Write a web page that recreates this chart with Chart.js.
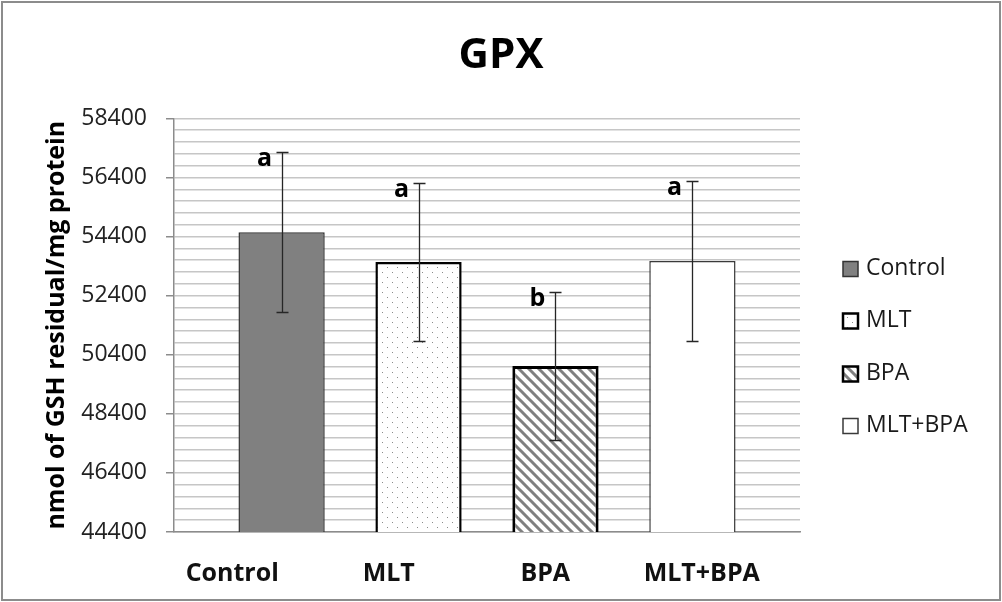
<!DOCTYPE html>
<html>
<head>
<meta charset="utf-8">
<title>GPX</title>
<script src="https://cdn.jsdelivr.net/npm/chart.js@4.4.1/dist/chart.umd.min.js"></script>
<style>
  html, body { margin: 0; padding: 0; background: #fff; }
  canvas { display: block; }
</style>
</head>
<body>
<canvas id="gpxChart" width="1002" height="602"></canvas>
<script>
const chartTitle = 'GPX';
const groups = ['Control', 'MLT', 'BPA', 'MLT+BPA'];
const means = [54550, 53540, 50020, 53570];
const errors = [2720, 2680, 2500, 2700];
const letters = ['a', 'a', 'b', 'a'];
const yTitle = 'nmol of GSH residual/mg protein';
const yMin = 44400;
const yMax = 58400;
const yMajor = 2000;
const yMinor = 400;

const canvas = document.getElementById('gpxChart');
const ctx = canvas.getContext('2d');

Chart.defaults.font.family = "'Open Sans', sans-serif";

function makePattern(size, draw) {
    const tile = document.createElement('canvas');
    tile.width = size;
    tile.height = size;
    const g = tile.getContext('2d');
    g.fillStyle = '#ffffff';
    g.fillRect(0, 0, size, size);
    draw(g, size);
    return ctx.createPattern(tile, 'repeat');
}

const dots = makePattern(10, g => {
    g.fillStyle = '#8a8a8a';
    g.fillRect(2, 2, 1, 1);
    g.fillRect(7, 7, 1, 1);
});

const hatch = makePattern(10, (g, s) => {
    g.strokeStyle = '#808080';
    g.lineWidth = 3;
    g.beginPath();
    g.moveTo(-2, -2); g.lineTo(s + 2, s + 2);
    g.moveTo(-2, s - 2); g.lineTo(2, s + 2);
    g.moveTo(s - 2, -2); g.lineTo(s + 2, 2);
    g.stroke();
});

// bar styles, one per group
const fills = ['#808080', dots, hatch, '#ffffff'];
const borders = ['#333333', '#000000', '#000000', '#3a3a3a'];
const borderWidths = [1.5, 2.5, 3, 1.5];

const datasets = groups.map((name, i) => ({
    label: name,
    data: [means[i]],
    backgroundColor: fills[i],
    borderColor: borders[i],
    borderWidth: borderWidths[i],
    xAxisID: 'xBars',
    categoryPercentage: 0.875,
    barPercentage: 0.63
}));

const frame = {
    id: 'frame',
    beforeDraw(chart) {
        const c = chart.ctx;
        c.save();
        c.fillStyle = '#ffffff';
        c.fillRect(0, 0, chart.width, chart.height);
        c.restore();
    },
    afterDraw(chart) {
        const c = chart.ctx;
        c.save();
        c.strokeStyle = '#8c8c8c';
        c.lineWidth = 2;
        c.strokeRect(2, 2, chart.width - 4, chart.height - 4);
        c.restore();
    }
};

const errorBars = {
    id: 'errorBars',
    afterDatasetsDraw(chart) {
        const c = chart.ctx;
        const y = chart.scales.y;
        c.save();
        c.strokeStyle = '#262626';
        c.lineWidth = 1.3;
        c.fillStyle = '#000000';
        c.font = "bold 25px 'Open Sans'";
        c.textAlign = 'center';
        c.textBaseline = 'middle';
        chart.data.datasets.forEach((ds, i) => {
            const bar = chart.getDatasetMeta(i).data[0];
            const x = Math.round(bar.x) + 0.5;
            const top = Math.round(y.getPixelForValue(means[i] + errors[i])) + 0.5;
            const bottom = Math.round(y.getPixelForValue(means[i] - errors[i])) + 0.5;
            c.beginPath();
            c.moveTo(x, top); c.lineTo(x, bottom);
            c.moveTo(x - 6, top); c.lineTo(x + 6, top);
            c.moveTo(x - 6, bottom); c.lineTo(x + 6, bottom);
            c.stroke();
            c.fillText(letters[i], x - 18, top + 6);
        });
        c.restore();
    }
};

const sideLegend = {
    id: 'sideLegend',
    afterDraw(chart) {
        const c = chart.ctx;
        const area = chart.chartArea;
        const gap = 52.5;
        const box = 15;
        const x0 = area.right + 43;
        const mid = (area.top + area.bottom) / 2 + 22;
        c.save();
        c.font = "23px 'Open Sans'";
        c.textBaseline = 'middle';
        c.textAlign = 'left';
        chart.data.datasets.forEach((ds, i) => {
            const cy = mid + (i - (chart.data.datasets.length - 1) / 2) * gap;
            const top = Math.round(cy - box / 2) + 0.5;
            c.fillStyle = ds.backgroundColor;
            c.fillRect(x0, top, box, box);
            c.strokeStyle = ds.borderColor;
            c.lineWidth = Math.min(ds.borderWidth, 2.5);
            c.strokeRect(x0, top, box, box);
            c.fillStyle = '#1a1a1a';
            c.fillText(ds.label, x0 + box + 8, cy);
        });
        c.restore();
    }
};

new Chart(ctx, {
    type: 'bar',
    data: {
        labels: [chartTitle],
        datasets: datasets
    },
    plugins: [frame, errorBars, sideLegend],
    options: {
        responsive: false,
        animation: false,
        layout: { padding: { top: 10, left: 38, right: 38, bottom: 12 } },
        plugins: {
            legend: { display: false },
            tooltip: { enabled: false },
            title: {
                display: true,
                text: chartTitle,
                color: '#000000',
                font: { size: 42, weight: 'bold' },
                padding: { top: 21, bottom: 37 }
            }
        },
        scales: {
            xBars: {
                type: 'category',
                axis: 'x',
                position: 'bottom',
                display: false,
                offset: true
            },
            x: {
                type: 'category',
                labels: groups,
                position: 'bottom',
                offset: true,
                grid: { display: false, drawTicks: false },
                border: { display: true, color: '#8c8c8c', width: 1.5 },
                ticks: {
                    padding: 27,
                    labelOffset: -20,
                    color: '#111111',
                    font: { size: 25, weight: 'bold' }
                },
                afterFit: s => { s.height = 58; }
            },
            y: {
                min: yMin,
                max: yMax,
                ticks: {
                    stepSize: yMinor,
                    autoSkip: false,
                    maxTicksLimit: 100,
                    padding: 19,
                    color: '#222222',
                    font: { size: 23 },
                    callback: v => ((v - yMin) % yMajor === 0 ? String(v) : '')
                },
                grid: {
                    color: '#c6c6c6',
                    lineWidth: 1.5,
                    tickLength: 8,
                    tickColor: c => (c.tick && c.tick.label !== '' ? '#8c8c8c' : 'rgba(0,0,0,0)')
                },
                border: { color: '#8c8c8c', width: 1.5 },
                title: {
                    display: true,
                    text: yTitle,
                    color: '#000000',
                    font: { size: 25, weight: 'bold' },
                    padding: { top: 4, bottom: 9 }
                },
                afterFit: s => { s.width = 136; }
            },
            // empty axis on the right keeps room for the legend
            legendSpace: {
                type: 'linear',
                position: 'right',
                ticks: { display: false },
                grid: { display: false },
                border: { display: false },
                afterFit: s => { s.width = 164; }
            }
        }
    }
});
</script>
</body>
</html>
